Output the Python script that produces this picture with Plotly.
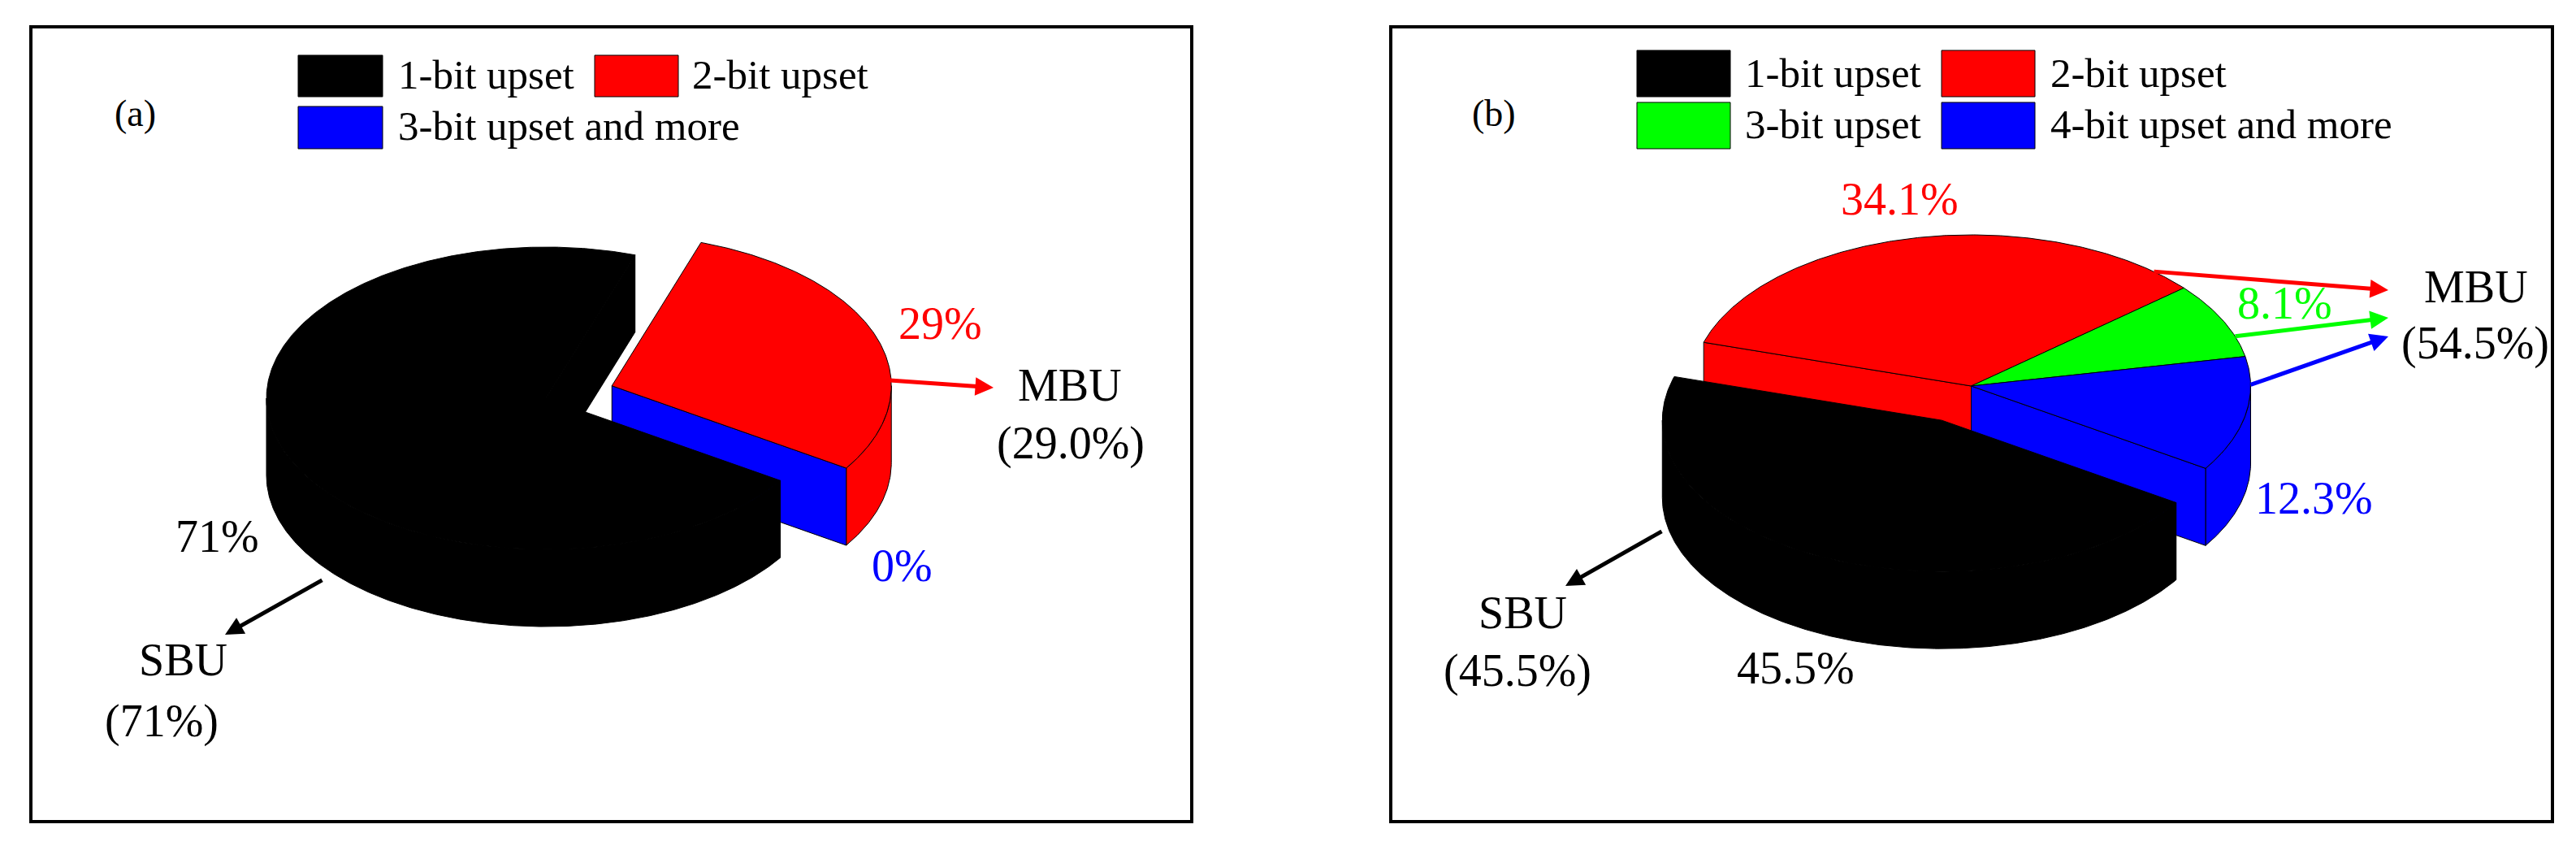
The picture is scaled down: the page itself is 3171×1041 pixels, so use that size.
import math
import plotly.graph_objects as go

# ---------- data ----------
categories_a = ["1-bit upset", "2-bit upset", "3-bit upset and more"]
values_a = [71.0, 29.0, 0.0]
colors_a = ["#000000", "#ff0000", "#0000ff"]
pct_labels_a = ["71%", "29%", "0%"]

categories_b = ["1-bit upset", "2-bit upset", "3-bit upset", "4-bit upset and more"]
values_b = [45.5, 34.1, 8.1, 12.3]
colors_b = ["#000000", "#ff0000", "#00ff00", "#0000ff"]
pct_labels_b = ["45.5%", "34.1%", "8.1%", "12.3%"]

# pie geometry (canvas pixel units)
RX, RY, DEPTH = 344, 186, 95
START = -33.0     # first slice starts here and runs clockwise
EXPLODE = 0.25
FONT = "Liberation Serif"
W, H = 3171, 1041

fig = go.Figure()
ann = []
shapes = []


def pt(c, t, drop=0):
    r = math.radians(t)
    return c[0] + RX * math.cos(r), c[1] - RY * math.sin(r) + drop


def arc(c, t1, t2, drop=0):
    n = max(2, int(abs(t2 - t1) / 0.5) + 1)
    return [pt(c, t1 + (t2 - t1) * i / (n - 1), drop) for i in range(n)]


def poly(points, color):
    xs = [p[0] for p in points] + [points[0][0]]
    ys = [p[1] for p in points] + [points[0][1]]
    fig.add_trace(go.Scatter(x=xs, y=ys, mode="lines", fill="toself", fillcolor=color,
                             line=dict(color="#000000", width=1), hoverinfo="skip",
                             showlegend=False))


def draw_group(center, slices):
    """slices: list of (start angle, end angle, colour) running clockwise."""
    # radial walls: only the two outer edges of the group can show
    t_first, t_last = slices[0][0], slices[-1][1]
    if math.cos(math.radians(t_first)) < 0:
        e = pt(center, t_first)
        poly([center, e, (e[0], e[1] + DEPTH), (center[0], center[1] + DEPTH)], slices[0][2])
    # outer wall: the part of each slice on the viewer's side
    for t1, t2, col in slices:
        if t1 == t2:
            continue
        for k in (0, 360):
            hi, lo = min(t1 + k, 0), max(t2 + k, -180)
            if hi > lo:
                poly(arc(center, hi, lo) + arc(center, lo, hi, DEPTH), col)
    if math.cos(math.radians(t_last)) > 0:
        e = pt(center, t_last)
        poly([center, e, (e[0], e[1] + DEPTH), (center[0], center[1] + DEPTH)], slices[-1][2])
    # top faces
    for t1, t2, col in slices:
        if t1 != t2:
            poly([center] + arc(center, t1, t2), col)


def draw_pie(values, colors, n_sbu, base_center, exploded):
    total = sum(values)
    slices, t = [], START
    for v, col in zip(values, colors):
        span = 360.0 * v / total
        slices.append((t, t - span, col))
        t -= span
    groups = {"SBU": slices[:n_sbu], "MBU": slices[n_sbu:]}
    g = groups[exploded]
    mid = math.radians((g[0][0] + g[-1][1]) / 2)
    off = (EXPLODE * RX * math.cos(mid), -EXPLODE * RY * math.sin(mid))
    exploded_center = (base_center[0] + off[0], base_center[1] + off[1])
    for name in ("MBU", "SBU"):
        draw_group(exploded_center if name == exploded else base_center, groups[name])


def text(x, y, s, color="#000000", size=56, anchor="center"):
    ann.append(dict(x=x, y=y, text=s, showarrow=False, xref="x", yref="y",
                    xanchor=anchor, yanchor="middle",
                    font=dict(family=FONT, size=size, color=color)))


def arrow(x0, y0, x1, y1, color):
    ann.append(dict(x=x1, y=y1, ax=x0, ay=y0, xref="x", yref="y", axref="x", ayref="y",
                    text="", showarrow=True, arrowhead=2, arrowsize=0.9, arrowwidth=5,
                    arrowcolor=color))


def swatch(x0, y0, x1, y1, color):
    shapes.append(dict(type="rect", xref="x", yref="y", x0=x0, y0=y0, x1=x1, y1=y1,
                       fillcolor=color, line=dict(color="#000000", width=1)))


def frame(x0, y0, x1, y1):
    shapes.append(dict(type="rect", xref="x", yref="y", x0=x0, y0=y0, x1=x1, y1=y1,
                       fillcolor="rgba(0,0,0,0)", line=dict(color="#000000", width=4)))


# ---------- panel (a) ----------
frame(38, 33, 1467, 1011)
draw_pie(values_a, colors_a, 1, (672, 490), "MBU")
swatch(367, 68, 471, 119, colors_a[0])
swatch(732, 68, 835, 119, colors_a[1])
swatch(367, 131, 471, 183, colors_a[2])
text(488, 92, categories_a[0], size=51, anchor="left")
text(850, 92, categories_a[1], size=51, anchor="left")
text(488, 155, categories_a[2], size=51, anchor="left")
text(166, 139, "(a)", size=46)
text(1157, 398, pct_labels_a[1], colors_a[1])
text(1110, 696, pct_labels_a[2], colors_a[2])
text(267, 660, pct_labels_a[0])
text(1317, 474, "MBU")
text(1318, 545, "(29.0%)")
text(225, 812, "SBU")
text(199, 887, "(71%)")
arrow(1094, 468, 1223, 477, colors_a[1])
arrow(398, 713, 277, 781, colors_a[0])

# ---------- panel (b) ----------
frame(1712, 33, 3142, 1011)
draw_pie(values_b, colors_b, 1, (2426.5, 475), "SBU")
swatch(2015, 62, 2130, 119, colors_b[0])
swatch(2390, 62, 2505, 119, colors_b[1])
swatch(2015, 126, 2130, 183, colors_b[2])
swatch(2390, 126, 2505, 183, colors_b[3])
text(2146, 90, categories_b[0], size=51, anchor="left")
text(2522, 90, categories_b[1], size=51, anchor="left")
text(2146, 153, categories_b[2], size=51, anchor="left")
text(2522, 153, categories_b[3], size=51, anchor="left")
text(1839, 139, "(b)", size=46)
text(2338, 245, pct_labels_b[1], colors_b[1])
text(2812, 373, pct_labels_b[2], colors_b[2])
text(2848, 613, pct_labels_b[3], colors_b[3])
text(2210, 822, pct_labels_b[0])
text(3048, 353, "MBU")
text(3047, 422, "(54.5%)")
text(1874, 754, "SBU")
text(1868, 825, "(45.5%)")
arrow(2650, 334, 2940, 357, colors_b[1])
arrow(2750, 414, 2940, 391, colors_b[2])
arrow(2769, 474, 2940, 414, colors_b[3])
arrow(2047, 653, 1927, 721, colors_b[0])

fig.update_layout(
    width=W, height=H, margin=dict(l=0, r=0, t=0, b=0),
    paper_bgcolor="#ffffff", plot_bgcolor="#ffffff", showlegend=False,
    xaxis=dict(range=[0, W], visible=False, fixedrange=True),
    yaxis=dict(range=[H, 0], visible=False, fixedrange=True),
    annotations=ann, shapes=shapes,
)
fig.write_html("out.html", config={"displayModeBar": False},
               post_script="document.body.style.margin='0';document.body.style.overflow='hidden';")
